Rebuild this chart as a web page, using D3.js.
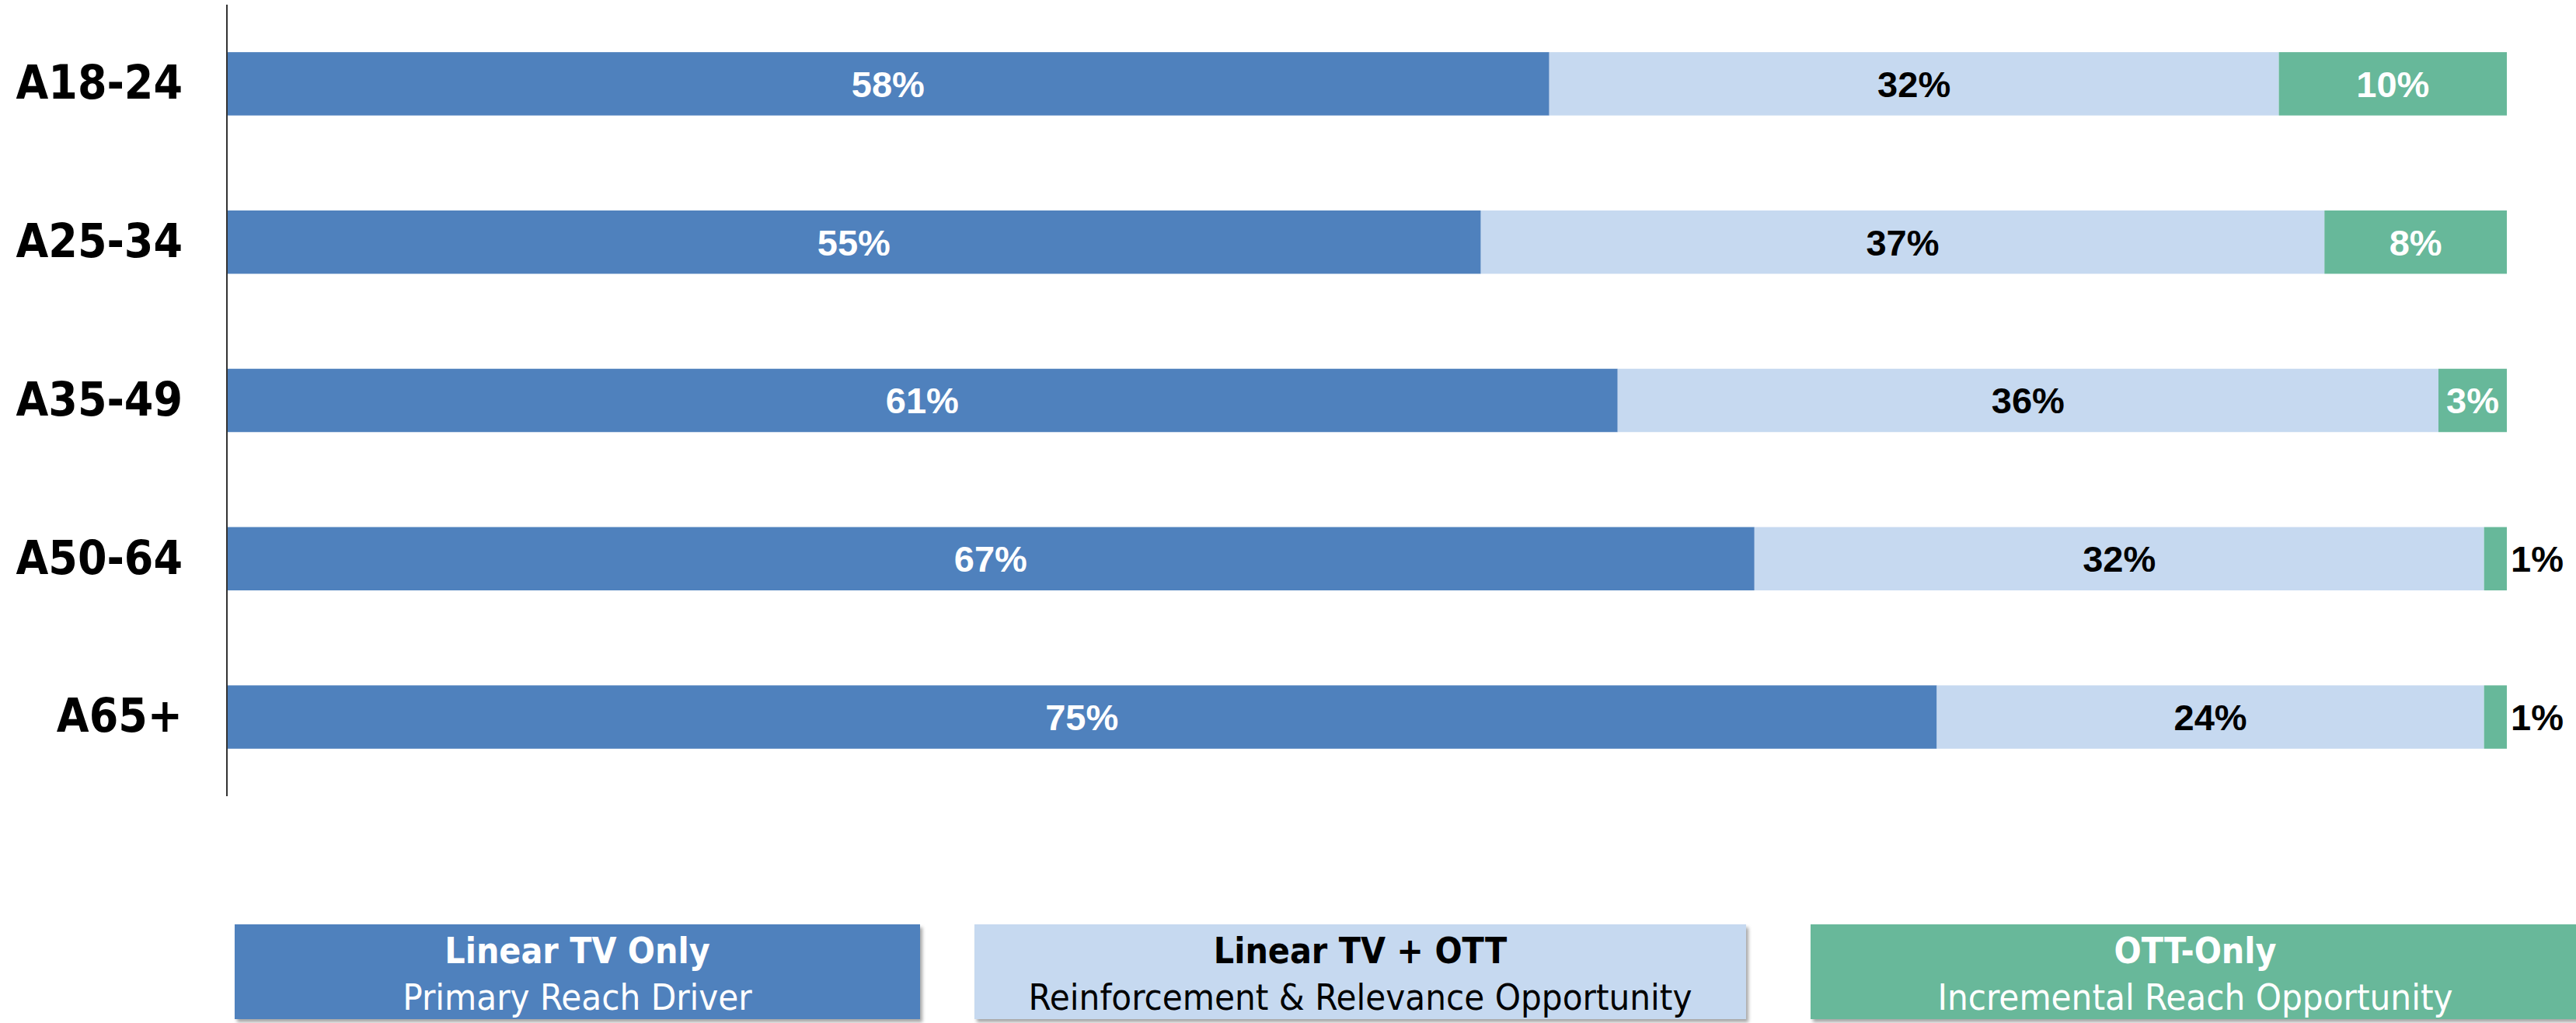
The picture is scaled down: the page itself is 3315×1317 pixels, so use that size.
<!DOCTYPE html>
<html>
<head>
<meta charset="utf-8">
<script src="https://cdn.jsdelivr.net/npm/d3@7"></script>
<style>
  body { margin: 0; background: #fff; }
</style>
</head>
<body>
<svg></svg>
<script>
const categories = ["A18-24", "A25-34", "A35-49", "A50-64", "A65+"];
const linearOnly = [58, 55, 61, 67, 75];
const linearPlusOtt = [32, 37, 36, 32, 24];
const ottOnly = [10, 8, 3, 1, 1];

const seriesKeys = ["linear", "both", "ott"];
const seriesColors = ["#4F81BD", "#C6D9F0", "#67B89A"];
const labelColors = ["#fff", "#000", "#fff"];
const legendTitles = ["Linear TV Only", "Linear TV + OTT", "OTT-Only"];
const legendSubtitles = ["Primary Reach Driver", "Reinforcement & Relevance Opportunity", "Incremental Reach Opportunity"];

const data = categories.map((c, i) => ({
    cat: c,
    linear: linearOnly[i],
    both: linearPlusOtt[i],
    ott: ottOnly[i]
}));

const svgWidth = 3315, svgHeight = 1317;
const margin = { top: 6, right: 89, bottom: 292, left: 292 };
const width = svgWidth - margin.left - margin.right;
const height = svgHeight - margin.top - margin.bottom;

const svg = d3.select("svg")
    .attr("width", svgWidth)
    .attr("height", svgHeight);

const defs = svg.append("defs");
defs.append("filter")
    .attr("id", "shadow")
    .attr("x", "-5%").attr("y", "-10%")
    .attr("width", "110%").attr("height", "130%")
    .append("feDropShadow")
    .attr("dx", 3).attr("dy", 4)
    .attr("stdDeviation", 2)
    .attr("flood-color", "#000")
    .attr("flood-opacity", 0.35);

const g = svg.append("g")
    .attr("transform", "translate(" + margin.left + "," + margin.top + ")");

const x = d3.scaleLinear()
    .domain([0, 100])
    .range([0, width]);

const y = d3.scaleBand()
    .domain(categories)
    .range([0, height])
    .paddingInner(0.6)
    .paddingOuter(0.3);

const stack = d3.stack().keys(seriesKeys);
const series = stack(data);

const layers = g.selectAll(".layer")
    .data(series)
    .enter().append("g")
    .attr("class", "layer")
    .attr("fill", (d, i) => seriesColors[i]);

layers.selectAll("rect")
    .data(d => d)
    .enter().append("rect")
    .attr("x", d => x(d[0]))
    .attr("y", d => y(d.data.cat))
    .attr("width", d => x(d[1]) - x(d[0]))
    .attr("height", y.bandwidth());

// value labels
series.forEach((s, si) => {
    g.selectAll(".lbl" + si)
        .data(s)
        .enter().append("text")
        .attr("class", "lbl" + si)
        .each(function(d) {
            const v = d[1] - d[0];
            const outside = v < 2;
            d3.select(this)
                .attr("x", outside ? x(d[1]) + 5 : (x(d[0]) + x(d[1])) / 2)
                .attr("text-anchor", outside ? "start" : "middle")
                .attr("fill", outside ? "#000" : labelColors[si]);
        })
        .attr("y", d => y(d.data.cat) + y.bandwidth() / 2)
        .attr("dy", "0.36em")
        .attr("font-family", "'Liberation Sans', Arial, sans-serif")
        .attr("font-weight", "bold")
        .attr("font-size", 47)
        .text(d => (d[1] - d[0]) + "%");
});

// category axis
const yAxis = g.append("g")
    .call(d3.axisLeft(y).tickSize(0).tickPadding(57));

yAxis.select(".domain")
    .attr("stroke", "#333")
    .attr("stroke-width", 2)
    .attr("d", "M0,0V" + height);

yAxis.selectAll(".tick text")
    .attr("fill", "#000")
    .attr("font-family", "'DejaVu Sans Condensed', 'DejaVu Sans', sans-serif")
    .attr("font-weight", "bold")
    .attr("font-size", 60);

// legend
const legendBoxes = [
    { x: 302, w: 882 },
    { x: 1254, w: 993 },
    { x: 2330, w: 990 }
];
const legendTop = 1190, legendHeight = 122;

const legend = svg.append("g").attr("class", "legend");

const items = legend.selectAll(".item")
    .data(legendTitles)
    .enter().append("g")
    .attr("class", "item")
    .attr("transform", (d, i) => "translate(" + legendBoxes[i].x + "," + legendTop + ")");

items.append("rect")
    .attr("width", (d, i) => legendBoxes[i].w)
    .attr("height", legendHeight)
    .attr("fill", (d, i) => seriesColors[i])
    .attr("filter", "url(#shadow)");

items.append("text")
    .attr("x", (d, i) => legendBoxes[i].w / 2)
    .attr("y", 50)
    .attr("text-anchor", "middle")
    .attr("fill", (d, i) => labelColors[i])
    .attr("font-family", "'DejaVu Sans Condensed', 'DejaVu Sans', sans-serif")
    .attr("font-weight", "bold")
    .attr("font-size", 46)
    .text(d => d);

items.append("text")
    .attr("x", (d, i) => legendBoxes[i].w / 2)
    .attr("y", 110)
    .attr("text-anchor", "middle")
    .attr("fill", (d, i) => labelColors[i])
    .attr("font-family", "'DejaVu Sans Condensed', 'DejaVu Sans', sans-serif")
    .attr("font-size", 47)
    .text((d, i) => legendSubtitles[i]);
</script>
</body>
</html>
